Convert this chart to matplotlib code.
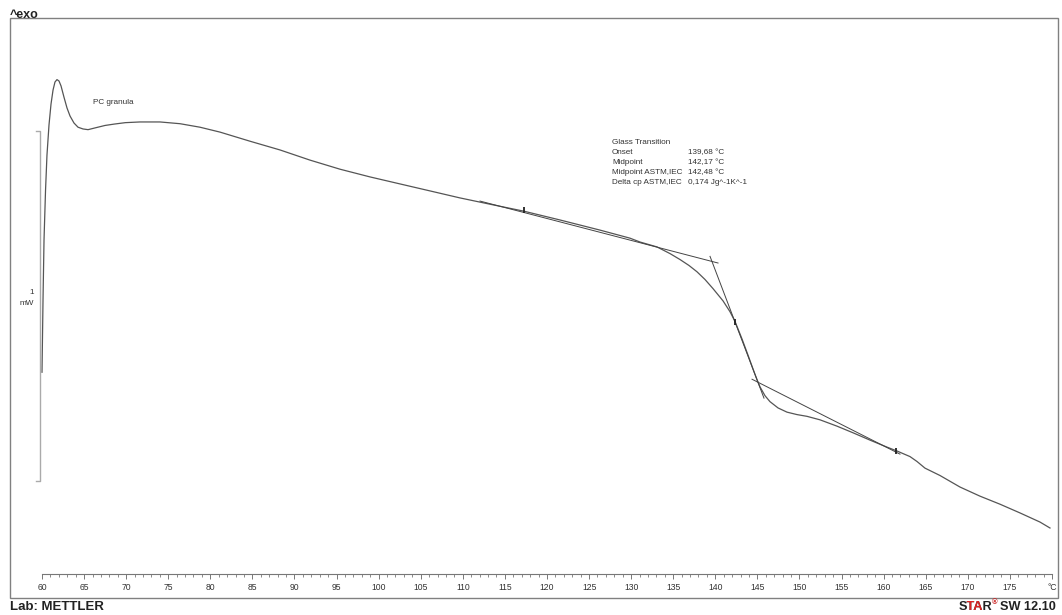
import matplotlib.pyplot as plt
from matplotlib.patches import Rectangle
from matplotlib.transforms import Bbox

# DSC curve, PC granula (temperature in degC, heat flow in mW, arbitrary offset)
temp = [60.0, 60.12, 60.24, 60.42, 60.59, 60.83, 61.07, 61.31, 61.54, 61.78,
        62.02, 62.26, 62.61, 62.97, 63.33, 63.80, 64.28, 64.87, 65.47, 66.30,
        67.49, 68.60, 69.90, 71.64, 74.02, 76.40, 78.77, 81.15, 84.71, 88.28,
        91.84, 95.41, 98.97, 102.53, 106.10, 109.66, 113.23, 117.27, 121.54, 126.30,
        129.86, 131.05, 133.07, 134.61, 135.80, 136.87, 137.82, 138.77, 139.72, 140.91,
        141.74, 142.34, 143.17, 143.88, 144.59, 144.95, 145.31, 145.90, 146.49, 147.45,
        148.51, 149.70, 150.89, 152.44, 154.45, 156.36, 158.38, 160.40, 161.58, 163.13,
        163.96, 164.91, 166.69, 169.07, 171.44, 173.82, 176.20, 178.57, 179.76]
heat_flow = [0.311, 0.517, 0.689, 0.831, 0.931, 1.017, 1.077, 1.117, 1.140, 1.147,
             1.143, 1.129, 1.097, 1.066, 1.043, 1.023, 1.011, 1.006, 1.004, 1.009,
             1.016, 1.020, 1.024, 1.026, 1.026, 1.021, 1.011, 0.997, 0.971, 0.946,
             0.917, 0.891, 0.869, 0.849, 0.829, 0.809, 0.791, 0.771, 0.746, 0.717,
             0.694, 0.683, 0.669, 0.650, 0.633, 0.616, 0.598, 0.576, 0.550, 0.515,
             0.484, 0.456, 0.406, 0.360, 0.313, 0.290, 0.269, 0.244, 0.227, 0.209,
             0.197, 0.190, 0.185, 0.175, 0.157, 0.138, 0.117, 0.097, 0.086, 0.070,
             0.056, 0.037, 0.016, -0.017, -0.043, -0.066, -0.091, -0.117, -0.134]

# glass transition evaluation lines
base1_t = [112.04, 140.32]
base1_hf = [0.800, 0.623]
tang_t = [139.37, 145.78]
tang_hf = [0.642, 0.237]
base2_t = [144.36, 161.94]
base2_hf = [0.291, 0.077]
limit_t = [117.27, 142.34, 161.46]
limit_hf = [0.774, 0.454, 0.086]

tg_labels = ["Onset", "Midpoint", "Midpoint ASTM,IEC", "Delta cp ASTM,IEC"]
tg_values = ["139,68 °C", "142,17 °C", "142,48 °C", "0,174 Jg^-1K^-1"]

W, H = 1062, 615
fig = plt.figure(figsize=(W / 100, H / 100), dpi=100)
ax = fig.add_axes([10 / W, (H - 598) / H, 1048 / W, 580 / H])
ax.set_xlim(56.198, 180.713)
ax.set_ylim(-0.334, 1.323)

small = "Liberation Sans"
fs = 5.9
txt_col = "#333333"

ax.plot(temp, heat_flow, color="#555555", lw=0.9)
ax.plot(base1_t, base1_hf, color="#444444", lw=0.7)
ax.plot(tang_t, tang_hf, color="#444444", lw=0.7)
ax.plot(base2_t, base2_hf, color="#444444", lw=0.7)
ax.plot(limit_t, limit_hf, ls="none", marker="|", ms=5, mew=1.3, color="#222222")

# 1 mW scale bar
ax.plot([59.29, 59.76, 59.76, 59.29], [0.0, 0.0, 1.0, 1.0], color="#aaaaaa", lw=1.0)
ax.text(59.0, 0.538, "1", ha="right", va="center", fontsize=fs, family=small, color=txt_col)
ax.text(59.0, 0.507, "mW", ha="right", va="center", fontsize=fs, family=small, color=txt_col)

ax.text(66.06, 1.083, "PC granula", ha="left", va="center", fontsize=fs,
        family=small, color=txt_col)

# glass transition results
ax.text(127.72, 0.968, "Glass Transition", ha="left", va="center", fontsize=fs,
        family=small, color=txt_col)
for k in range(4):
    yy = 0.968 - (k + 1) * 0.0286
    ax.text(127.72, yy, tg_labels[k], ha="left", va="center", fontsize=fs,
            family=small, color=txt_col)
    ax.text(136.75, yy, tg_values[k], ha="left", va="center", fontsize=fs,
            family=small, color=txt_col)

# temperature scale inside the box
for s in ["left", "right", "top"]:
    ax.spines[s].set_visible(False)
ax.spines["bottom"].set_position(("data", -0.266))
ax.spines["bottom"].set_bounds(60, 180)
ax.spines["bottom"].set_color("#777777")
ax.spines["bottom"].set_linewidth(0.8)
ax.set_xticks(range(60, 181, 5))
ax.set_xticks(range(60, 181, 1), minor=True)
ax.set_xticklabels([str(v) for v in range(60, 180, 5)] + ["°C"])
ax.tick_params(axis="x", which="major", direction="out", length=3.5, width=0.7,
               color="#777777", pad=2.5, labelsize=6.2, labelcolor=txt_col)
ax.tick_params(axis="x", which="minor", direction="out", length=2, width=0.6,
               color="#777777")
for lab in ax.get_xticklabels():
    lab.set_family(small)
ax.set_yticks([])

ax.add_patch(Rectangle((0, 0), 1, 1, transform=ax.transAxes, fill=False,
                       ec="#808080", lw=1.0, clip_on=False))

fig.text(10 / W, 1 - 15 / H, "^exo", ha="left", va="center", fontsize=9,
         fontweight="bold", family="Liberation Sans", color="#222222")
fig.text(10 / W, 1 - 607 / H, "Lab: METTLER", ha="left", va="center", fontsize=9.5,
         fontweight="bold", family="Liberation Sans", color="#222222")

# STAR logo, red "TA" drawn as a clipped copy
r = fig.canvas.get_renderer()
bold = dict(fontweight="bold", family="Liberation Sans", va="center")
tail = fig.text(1056 / W, 1 - 607 / H, "SW 12.10", ha="right", fontsize=9.2,
                color="#222222", **bold)
x_tail = tail.get_window_extent(renderer=r).x0
sup = fig.text((x_tail - 3) / W, 1 - 603 / H, "®", ha="right", fontsize=5.5,
               color="#cc2222", **bold)
x_sup = sup.get_window_extent(renderer=r).x0
star = fig.text((x_sup + 0.5) / W, 1 - 607 / H, "STAR", ha="right", fontsize=9.2,
                color="#222222", **bold)
sb = star.get_window_extent(renderer=r)


def prefix_width(s):
    t = fig.text(0, 0, s, fontsize=9.2, **bold)
    w = t.get_window_extent(renderer=r).width
    t.remove()
    return w


w_s = prefix_width("S")
w_sta = prefix_width("STA")
red = fig.text((x_sup + 0.5) / W, 1 - 607 / H, "STAR", ha="right", fontsize=9.2,
               color="#dd2222", **bold)
red.set_clip_box(Bbox([[sb.x0 + w_s + 0.3, sb.y0 - 5],
                       [sb.x0 + w_sta - 0.5, sb.y1 + 5]]))

fig.savefig("out.png", dpi=100)
